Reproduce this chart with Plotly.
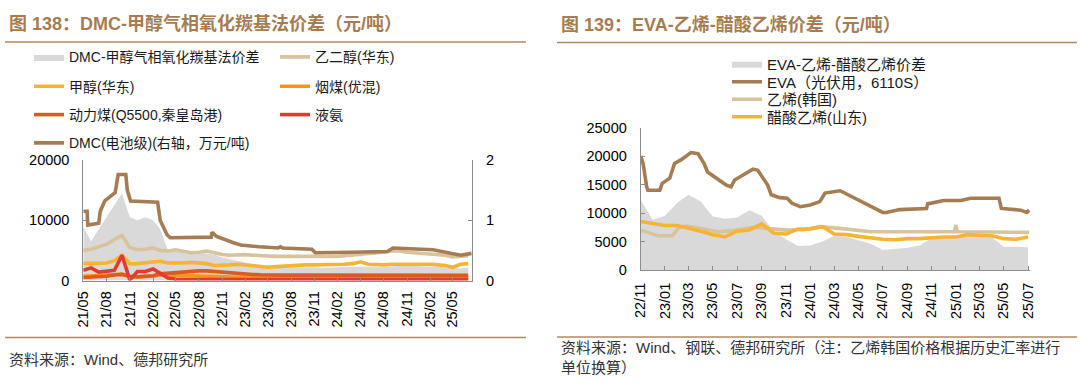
import plotly.graph_objects as go
import pandas as pd

W, H = 1080, 383

# ---------------- Left chart data (monthly, 2021-05 .. 2025-07) ----------------
left_start = "2021-05-01"
left_n = 51
gray_l = [9000, 6500, 8500, 10500, 12500, 14500, 10500, 10000, 10500, 10000,
          8500, 5000, 4800, 4700, 4800, 4600, 4500, 4300, 3800, 3500,
          3200, 3000, 2800, 2500, 2300, 2200, 2200, 2300, 2300, 2300,
          2200, 2100, 2100, 2200, 2300, 2300, 2400, 2300, 2200, 2300,
          2400, 2400, 2500, 2400, 2400, 2300, 2300, 2200, 2100, 2000, 2100]
meg_l = [5000, 5200, 5600, 6000, 6800, 7500, 5500, 5100, 5200, 5400,
         5000, 4900, 5100, 4800, 4600, 4700, 4900, 4600, 4300, 4200,
         4300, 4300, 4200, 4100, 4100, 4000, 4000, 4000, 3900, 3900,
         3900, 3900, 4000, 4000, 4100, 4200, 4400, 4500, 4600, 4700,
         4900, 4900, 4700, 4600, 4600, 4500, 4400, 4200, 3900, 4000, 4100]
methanol_l = [2850, 2800, 2850, 2900, 3300, 4200, 2750, 2800, 2900, 3100,
              3200, 2900, 2850, 2900, 3000, 2900, 2800, 2500, 2500, 2600,
              2700, 2600, 2400, 2300, 2200, 2300, 2400, 2500, 2500, 2600,
              2600, 2600, 2700, 2700, 2700, 2800, 3100, 2700, 2600, 2600,
              2700, 2700, 2700, 2700, 2750, 2700, 2600, 2500, 2200, 2700, 2800]
coal_l = [700, 750, 800, 900, 1000, 1100, 600, 600, 650, 700,
          900, 900, 850, 800, 800, 750, 750, 700, 650, 600,
          600, 600, 600, 600, 550, 550, 550, 600, 600, 600,
          600, 550, 550, 550, 600, 600, 600, 600, 550, 550,
          550, 550, 550, 550, 550, 550, 550, 550, 500, 500, 500]
thermal_l = [500, 550, 600, 700, 900, 1000, 700, 600, 700, 800,
             1100, 1200, 1400, 1500, 1500, 1600, 1600, 1500, 1300, 1200,
             1100, 1050, 1000, 950, 900, 900, 900, 900, 900, 850,
             850, 850, 850, 850, 850, 850, 850, 850, 850, 850,
             850, 850, 850, 850, 850, 850, 850, 850, 850, 850, 850]
ammonia_l = [1700, 2100, 1400, 1600, 1700, 4200, 100, 1500, 1500, 1900,
             1200, 400, 200, 150, 150, 200, 150, 150, 200, 150,
             150, 150, 200, 150, 150, 200, 150, 150, 150, 200,
             150, 150, 150, 200, 150, 150, 150, 150, 200, 150,
             150, 150, 150, 150, 150, 200, 150, 150, 150, 150, 150]
dmc_dates = ["2021-05-01", "2021-05-16", "2021-05-19", "2021-07-01", "2021-07-07",
             "2021-07-25", "2021-09-04", "2021-09-16", "2021-10-16", "2021-10-22",
             "2021-11-04", "2022-02-19", "2022-03-01", "2022-03-28", "2022-04-10",
             "2022-09-19", "2022-09-22", "2022-10-10", "2022-12-13", "2023-01-13",
             "2023-03-28", "2023-06-10", "2023-06-20", "2023-06-28", "2023-10-22",
             "2023-11-04", "2024-03-20", "2024-08-15", "2024-09-07", "2024-11-25",
             "2025-02-12", "2025-06-01", "2025-07-14"]
dmc_vals = [1.15, 1.15, 0.92, 0.95, 1.15,
            1.32, 1.46, 1.76, 1.76, 1.50,
            1.32, 1.30, 1.00, 0.76, 0.71,
            0.72, 0.80, 0.73, 0.63, 0.59,
            0.56, 0.54, 0.56, 0.54, 0.52,
            0.46, 0.47, 0.48, 0.54, 0.52,
            0.51, 0.42, 0.45]
left_ticktext = ["21/05", "21/08", "21/11", "22/02", "22/05", "22/08", "22/11", "23/02",
                 "23/05", "23/08", "23/11", "24/02", "24/05", "24/08", "24/11", "25/02", "25/05"]

# ---------------- Right chart data (2022-11 .. 2025-07) ----------------
right_start = "2022-11-01"
right_n = 33
spread_r = [12300, 8800, 9500, 11800, 13200, 12000, 9400, 9000, 9200, 10500,
            9500, 6800, 5400, 4200, 4300, 5000, 6000, 5800, 5200, 4600,
            3500, 3700, 3900, 4300, 5600, 5800, 5900, 6000, 6000, 5800,
            4100, 4100, 4000]
vam_r = [8500, 8100, 7800, 7800, 7400, 6800, 6200, 5800, 6800, 7000,
         8100, 6500, 6300, 7200, 7200, 7600, 6300, 6200, 5900, 5600,
         5400, 5300, 5500, 5500, 5700, 5800, 5800, 6200, 6100, 6000,
         5500, 5400, 5800]
eth_dates = ["2022-11-01", "2022-12-01", "2022-12-15", "2023-01-20", "2023-02-05",
             "2023-02-25", "2023-04-15", "2023-05-15", "2023-06-28", "2023-08-10",
             "2023-09-15", "2023-11-01", "2023-12-20", "2024-01-25", "2024-03-15",
             "2024-04-20", "2024-06-01", "2024-12-28", "2025-01-01", "2025-01-04",
             "2025-07-04"]
eth_vals = [7000, 6400, 6000, 6000, 7500,
            7700, 7000, 6700, 7000, 7500,
            7300, 7000, 7100, 7600, 7300,
            7000, 6700, 6700, 7900, 6700,
            6600]
eva_dates = ["2022-11-01", "2022-11-07", "2022-11-16", "2022-11-19", "2022-12-19",
             "2022-12-25", "2023-01-13", "2023-01-25", "2023-02-12", "2023-02-27",
             "2023-03-07", "2023-03-25", "2023-04-09", "2023-04-18", "2023-05-10",
             "2023-06-04", "2023-06-16", "2023-06-25", "2023-07-10", "2023-07-28",
             "2023-08-10", "2023-08-22", "2023-09-04", "2023-09-16", "2023-09-25",
             "2023-10-16", "2023-11-04", "2023-11-16", "2023-12-07", "2024-01-01",
             "2024-01-25", "2024-02-07", "2024-03-16", "2024-04-19", "2024-06-10",
             "2024-07-01", "2024-07-10", "2024-08-13", "2024-10-19", "2024-10-22",
             "2024-12-01", "2025-01-13", "2025-02-07", "2025-04-19", "2025-04-25",
             "2025-06-13", "2025-06-28", "2025-07-04"]
eva_vals = [20000, 18700, 14600, 14000, 14000,
            15200, 16100, 18700, 19400, 20200,
            20600, 20400, 18700, 17200, 16100,
            14900, 14600, 15800, 16400, 17200,
            17700, 17500, 16100, 14900, 13200,
            12700, 12600, 11700, 11100, 11400,
            12000, 13500, 13900, 12700, 11000,
            10100, 10100, 10600, 10800, 11600,
            12200, 12200, 12600, 12600, 10800,
            10500, 10100, 10500]
right_ticktext = ["22/11", "23/01", "23/03", "23/05", "23/07", "23/09", "23/11", "24/01",
                  "24/03", "24/05", "24/07", "24/09", "24/11", "25/01", "25/03", "25/05", "25/07"]

left_months = pd.date_range(left_start, periods=left_n, freq="MS")
right_months = pd.date_range(right_start, periods=right_n, freq="MS")


def tick_dates(labels):
    return ["20%s-%s-01" % (t[:2], t[3:]) for t in labels]


# ---------------- helpers for pixel placement ----------------
def fx(px):
    return px / W


def fy(py):
    return 1 - py / H


FONT = "Liberation Sans, Arial, Noto Sans CJK SC"
GRAY = "#d9d9d9"
BROWN = "#a67c52"
TAN = "#d9c39c"
YELLOW = "#f6b434"
ORANGE = "#f7941d"
DORANGE = "#db5a22"
RED = "#e33b2e"
LW = 3.6

fig = go.Figure()

# Left chart
fig.add_trace(go.Scatter(x=left_months, y=gray_l, name="DMC-甲醇气相氧化羰基法价差",
                         mode="lines", line=dict(color=GRAY, width=0), fill="tozeroy",
                         fillcolor=GRAY, xaxis="x", yaxis="y", legend="legend"))
fig.add_trace(go.Scatter(x=left_months, y=meg_l, name="乙二醇(华东)", mode="lines",
                         line=dict(color=TAN, width=LW), xaxis="x", yaxis="y", legend="legend5"))
fig.add_trace(go.Scatter(x=left_months, y=methanol_l, name="甲醇(华东)", mode="lines",
                         line=dict(color=YELLOW, width=LW), xaxis="x", yaxis="y", legend="legend2"))
fig.add_trace(go.Scatter(x=left_months, y=coal_l, name="烟煤(优混)", mode="lines",
                         line=dict(color=ORANGE, width=LW), xaxis="x", yaxis="y", legend="legend6"))
fig.add_trace(go.Scatter(x=left_months, y=thermal_l, name="动力煤(Q5500,秦皇岛港)", mode="lines",
                         line=dict(color=DORANGE, width=LW), xaxis="x", yaxis="y", legend="legend3"))
fig.add_trace(go.Scatter(x=left_months, y=ammonia_l, name="液氨", mode="lines",
                         line=dict(color=RED, width=LW), xaxis="x", yaxis="y", legend="legend7"))
fig.add_trace(go.Scatter(x=pd.to_datetime(dmc_dates), y=dmc_vals, name="DMC(电池级)(右轴，万元/吨)",
                         mode="lines", line=dict(color=BROWN, width=LW), xaxis="x", yaxis="y2",
                         legend="legend4"))

# Right chart
fig.add_trace(go.Scatter(x=right_months, y=spread_r, name="EVA-乙烯-醋酸乙烯价差",
                         mode="lines", line=dict(color=GRAY, width=0), fill="tozeroy",
                         fillcolor=GRAY, xaxis="x2", yaxis="y3", legend="legend8"))
fig.add_trace(go.Scatter(x=pd.to_datetime(eva_dates), y=eva_vals, name="EVA（光伏用，6110S）",
                         mode="lines", line=dict(color=BROWN, width=LW), xaxis="x2", yaxis="y3",
                         legend="legend9"))
fig.add_trace(go.Scatter(x=pd.to_datetime(eth_dates), y=eth_vals, name="乙烯(韩国)",
                         mode="lines", line=dict(color=TAN, width=LW), xaxis="x2", yaxis="y3",
                         legend="legend10"))
fig.add_trace(go.Scatter(x=right_months, y=vam_r, name="醋酸乙烯(山东)",
                         mode="lines", line=dict(color=YELLOW, width=LW), xaxis="x2", yaxis="y3",
                         legend="legend11"))

axis_common = dict(showline=True, linecolor="#8c8c8c", linewidth=1, ticks="inside", ticklen=4,
                   tickcolor="#8c8c8c", showgrid=False, zeroline=False, automargin=False,
                   tickfont=dict(family=FONT, size=14.5, color="#000000"))

layout = dict(
    width=W, height=H, margin=dict(l=0, r=0, t=0, b=0, autoexpand=False),
    paper_bgcolor="white", plot_bgcolor="white", showlegend=True,
    xaxis=dict(domain=[fx(83.3), fx(472)], anchor="y", type="date",
               range=["2021-05-01", "2025-07-16"], tickvals=tick_dates(left_ticktext),
               ticktext=left_ticktext, tickangle=-90, ticklabelstandoff=4, **axis_common),
    yaxis=dict(domain=[fy(280.5), fy(160)], anchor="x", range=[0, 20000],
               tickvals=[0, 10000, 20000], tickformat="d", ticklabelstandoff=10, **axis_common),
    yaxis2=dict(overlaying="y", side="right", anchor="x", range=[0, 2],
                tickvals=[0, 1, 2], tickformat="d", ticklabelstandoff=10, **axis_common),
    xaxis2=dict(domain=[fx(640.7), fx(1030)], anchor="y3", type="date",
                range=["2022-11-01", "2025-07-06"], tickvals=tick_dates(right_ticktext),
                ticktext=right_ticktext, tickangle=-90, ticklabelstandoff=6, **axis_common),
    yaxis3=dict(domain=[fy(270), fy(127.5)], anchor="x2", range=[0, 25000],
                tickvals=[0, 5000, 10000, 15000, 20000, 25000], tickformat="d",
                ticklabelstandoff=10, **axis_common),
)

# legends: each item placed where it sits in the reference
leg_font_l = dict(family=FONT, size=14, color="#1a1a1a")
leg_font_r = dict(family=FONT, size=15, color="#1a1a1a")
left_leg_pos = {
    "legend": (29, 57.3), "legend2": (29, 86.7), "legend3": (29, 115), "legend4": (29, 143.3),
    "legend5": (275, 57.3), "legend6": (275, 86.7), "legend7": (275, 115),
}
right_leg_pos = {"legend8": (727, 64), "legend9": (727, 82), "legend10": (727, 99.5),
                 "legend11": (727, 117)}
for k, (x, y) in left_leg_pos.items():
    layout[k] = dict(x=fx(x), y=fy(y), xanchor="left", yanchor="middle", xref="paper",
                     yref="paper", bgcolor="rgba(0,0,0,0)", borderwidth=0, font=leg_font_l,
                     itemwidth=30)
for k, (x, y) in right_leg_pos.items():
    layout[k] = dict(x=fx(x), y=fy(y), xanchor="left", yanchor="middle", xref="paper",
                     yref="paper", bgcolor="rgba(0,0,0,0)", borderwidth=0, font=leg_font_r,
                     itemwidth=30)

fig.update_layout(**layout)

TITLE_C = "#a67c52"
LINE_C = "#b3895f"
title_font = dict(family=FONT, size=18, color=TITLE_C)
fig.add_annotation(text="<b>图 138：DMC-甲醇气相氧化羰基法价差（元/吨）</b>", x=fx(7), y=fy(23.5),
                   xref="paper", yref="paper", xanchor="left", yanchor="middle",
                   showarrow=False, font=title_font)
fig.add_annotation(text="<b>图 139：EVA-乙烯-醋酸乙烯价差（元/吨）</b>", x=fx(559), y=fy(25),
                   xref="paper", yref="paper", xanchor="left", yanchor="middle",
                   showarrow=False, font=title_font)
foot_font = dict(family=FONT, size=15, color="#333333")
fig.add_annotation(text="资料来源：Wind、德邦研究所", x=fx(7), y=fy(359), xref="paper", yref="paper",
                   xanchor="left", yanchor="middle", showarrow=False, font=foot_font)
fig.add_annotation(text="资料来源：Wind、钢联、德邦研究所（注：乙烯韩国价格根据历史汇率进行<br>单位换算）",
                   x=fx(559), y=fy(357.5), xref="paper", yref="paper", xanchor="left",
                   yanchor="middle", align="left", showarrow=False,
                   font=dict(family=FONT, size=15, color="#333333"))

for (x0, x1, y) in [(5, 526, 42), (557, 1077, 42.5), (5, 526, 337.5), (557, 1077, 337)]:
    fig.add_shape(type="line", xref="paper", yref="paper", x0=fx(x0), x1=fx(x1),
                  y0=fy(y), y1=fy(y), line=dict(color=LINE_C, width=1.6))

fig.write_html("out.html", config={"displayModeBar": False},
               post_script="document.body.style.margin='0';document.body.style.overflow='hidden';")
